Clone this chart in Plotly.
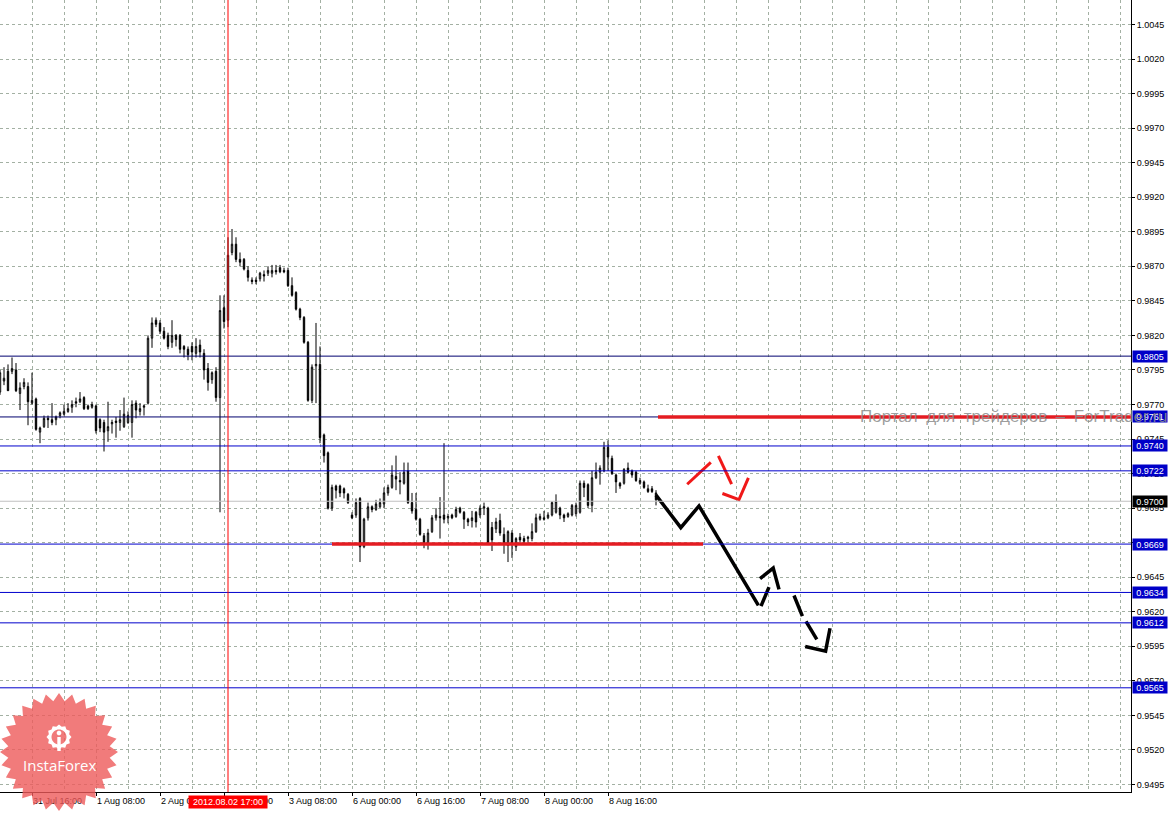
import numpy as np
import plotly.graph_objects as go

# ---------------- data (H1 bars, x = bar number) ----------------
bars = list(range(165))

open_prices = [
    0.9779, 0.9787, 0.9794, 0.9794, 0.9795, 0.9778, 0.9783, 0.9783, 0.9771, 0.9774,
    0.9750, 0.9754, 0.9760, 0.9759, 0.9759, 0.9762, 0.9763, 0.9765, 0.9768, 0.9772,
    0.9772, 0.9775, 0.9769, 0.9768, 0.9769, 0.9759, 0.9757, 0.9751, 0.9756, 0.9758,
    0.9757, 0.9754, 0.9757, 0.9757, 0.9771, 0.9765, 0.9768, 0.9771, 0.9818, 0.9831,
    0.9829, 0.9823, 0.9820, 0.9815, 0.9820, 0.9820, 0.9812, 0.9810, 0.9812, 0.9807,
    0.9813, 0.9807, 0.9796, 0.9788, 0.9794, 0.9775, 0.9840, 0.9831, 0.9880, 0.9886,
    0.9875, 0.9875, 0.9867, 0.9860, 0.9860, 0.9861, 0.9864, 0.9865, 0.9865, 0.9867,
    0.9869, 0.9867, 0.9867, 0.9856, 0.9851, 0.9839, 0.9833, 0.9815, 0.9773, 0.9798,
    0.9799, 0.9748, 0.9735, 0.9695, 0.9711, 0.9711, 0.9709, 0.9705, 0.9690, 0.9690,
    0.9702, 0.9667, 0.9688, 0.9696, 0.9694, 0.9696, 0.9698, 0.9706, 0.9710, 0.9718,
    0.9715, 0.9713, 0.9722, 0.9699, 0.9694, 0.9687, 0.9675, 0.9670, 0.9678, 0.9688,
    0.9689, 0.9690, 0.9688, 0.9690, 0.9689, 0.9695, 0.9692, 0.9687, 0.9686, 0.9692,
    0.9690, 0.9695, 0.9695, 0.9681, 0.9680, 0.9686, 0.9676, 0.9668, 0.9677, 0.9667,
    0.9674, 0.9673, 0.9673, 0.9673, 0.9678, 0.9687, 0.9688, 0.9688, 0.9690, 0.9692,
    0.9695, 0.9690, 0.9689, 0.9690, 0.9691, 0.9692, 0.9713, 0.9712, 0.9697, 0.9717,
    0.9721, 0.9722, 0.9739, 0.9731, 0.9719, 0.9713, 0.9713, 0.9724, 0.9722, 0.9721,
    0.9713, 0.9714, 0.9709, 0.9709, 0.9706,
]
high_prices = [
    0.9795, 0.9797, 0.9799, 0.9804, 0.9800, 0.9786, 0.9789, 0.9786, 0.9793, 0.9775,
    0.9754, 0.9762, 0.9762, 0.9771, 0.9762, 0.9765, 0.9770, 0.9771, 0.9773, 0.9775,
    0.9779, 0.9776, 0.9770, 0.9772, 0.9770, 0.9760, 0.9759, 0.9772, 0.9759, 0.9761,
    0.9766, 0.9775, 0.9765, 0.9773, 0.9773, 0.9771, 0.9770, 0.9820, 0.9833, 0.9833,
    0.9831, 0.9826, 0.9822, 0.9831, 0.9821, 0.9821, 0.9813, 0.9812, 0.9815, 0.9818,
    0.9817, 0.9810, 0.9800, 0.9794, 0.9797, 0.9849, 0.9849, 0.9891, 0.9897, 0.9891,
    0.9880, 0.9876, 0.9870, 0.9862, 0.9862, 0.9866, 0.9867, 0.9870, 0.9871, 0.9871,
    0.9871, 0.9869, 0.9869, 0.9862, 0.9852, 0.9840, 0.9834, 0.9816, 0.9799, 0.9829,
    0.9812, 0.9749, 0.9736, 0.9712, 0.9712, 0.9712, 0.9710, 0.9706, 0.9692, 0.9702,
    0.9703, 0.9688, 0.9699, 0.9697, 0.9701, 0.9702, 0.9710, 0.9712, 0.9726, 0.9733,
    0.9721, 0.9728, 0.9728, 0.9706, 0.9706, 0.9688, 0.9677, 0.9680, 0.9690, 0.9695,
    0.9703, 0.9742, 0.9691, 0.9691, 0.9696, 0.9696, 0.9693, 0.9688, 0.9693, 0.9693,
    0.9697, 0.9699, 0.9696, 0.9685, 0.9688, 0.9691, 0.9681, 0.9679, 0.9679, 0.9674,
    0.9677, 0.9675, 0.9675, 0.9684, 0.9691, 0.9691, 0.9693, 0.9692, 0.9700, 0.9705,
    0.9696, 0.9691, 0.9692, 0.9698, 0.9699, 0.9715, 0.9715, 0.9713, 0.9722, 0.9728,
    0.9726, 0.9743, 0.9744, 0.9733, 0.9720, 0.9714, 0.9724, 0.9728, 0.9723, 0.9722,
    0.9717, 0.9715, 0.9712, 0.9711, 0.9708,
]
low_prices = [
    0.9777, 0.9784, 0.9780, 0.9792, 0.9779, 0.9766, 0.9781, 0.9755, 0.9770, 0.9751,
    0.9742, 0.9753, 0.9753, 0.9755, 0.9755, 0.9760, 0.9762, 0.9764, 0.9764, 0.9768,
    0.9771, 0.9766, 0.9766, 0.9767, 0.9749, 0.9750, 0.9736, 0.9743, 0.9749, 0.9746,
    0.9751, 0.9753, 0.9756, 0.9746, 0.9760, 0.9762, 0.9762, 0.9770, 0.9811, 0.9826,
    0.9821, 0.9817, 0.9810, 0.9811, 0.9812, 0.9807, 0.9804, 0.9802, 0.9802, 0.9804,
    0.9804, 0.9788, 0.9780, 0.9785, 0.9772, 0.9692, 0.9825, 0.9826, 0.9878, 0.9873,
    0.9870, 0.9867, 0.9859, 0.9857, 0.9857, 0.9859, 0.9859, 0.9863, 0.9862, 0.9864,
    0.9865, 0.9865, 0.9855, 0.9848, 0.9838, 0.9831, 0.9814, 0.9772, 0.9771, 0.9771,
    0.9742, 0.9728, 0.9694, 0.9693, 0.9702, 0.9703, 0.9702, 0.9698, 0.9687, 0.9688,
    0.9656, 0.9666, 0.9686, 0.9692, 0.9693, 0.9695, 0.9695, 0.9704, 0.9709, 0.9708,
    0.9705, 0.9712, 0.9698, 0.9691, 0.9686, 0.9675, 0.9666, 0.9665, 0.9677, 0.9686,
    0.9673, 0.9684, 0.9684, 0.9687, 0.9688, 0.9691, 0.9680, 0.9682, 0.9681, 0.9681,
    0.9688, 0.9690, 0.9669, 0.9664, 0.9677, 0.9675, 0.9662, 0.9656, 0.9659, 0.9664,
    0.9670, 0.9669, 0.9670, 0.9671, 0.9677, 0.9686, 0.9686, 0.9687, 0.9689, 0.9691,
    0.9687, 0.9685, 0.9688, 0.9689, 0.9689, 0.9691, 0.9703, 0.9695, 0.9692, 0.9716,
    0.9712, 0.9721, 0.9722, 0.9719, 0.9706, 0.9709, 0.9712, 0.9720, 0.9717, 0.9714,
    0.9712, 0.9709, 0.9706, 0.9706, 0.9697,
]
close_prices = [
    0.9793, 0.9789, 0.9780, 0.9796, 0.9780, 0.9782, 0.9786, 0.9772, 0.9773, 0.9752,
    0.9753, 0.9760, 0.9759, 0.9757, 0.9761, 0.9764, 0.9765, 0.9767, 0.9770, 0.9771,
    0.9774, 0.9767, 0.9767, 0.9770, 0.9751, 0.9753, 0.9750, 0.9754, 0.9757, 0.9757,
    0.9759, 0.9763, 0.9762, 0.9770, 0.9766, 0.9767, 0.9769, 0.9818, 0.9829, 0.9828,
    0.9823, 0.9818, 0.9812, 0.9820, 0.9817, 0.9810, 0.9810, 0.9806, 0.9808, 0.9812,
    0.9808, 0.9795, 0.9786, 0.9793, 0.9775, 0.9838, 0.9830, 0.9878, 0.9886, 0.9875,
    0.9873, 0.9868, 0.9862, 0.9859, 0.9859, 0.9865, 0.9863, 0.9867, 0.9867, 0.9866,
    0.9866, 0.9866, 0.9856, 0.9849, 0.9839, 0.9833, 0.9815, 0.9773, 0.9797, 0.9799,
    0.9746, 0.9733, 0.9695, 0.9710, 0.9708, 0.9706, 0.9706, 0.9699, 0.9688, 0.9699,
    0.9667, 0.9687, 0.9696, 0.9694, 0.9698, 0.9699, 0.9706, 0.9710, 0.9719, 0.9716,
    0.9714, 0.9721, 0.9699, 0.9693, 0.9687, 0.9676, 0.9670, 0.9677, 0.9688, 0.9690,
    0.9688, 0.9687, 0.9689, 0.9688, 0.9694, 0.9692, 0.9687, 0.9685, 0.9688, 0.9685,
    0.9695, 0.9696, 0.9670, 0.9672, 0.9685, 0.9677, 0.9670, 0.9678, 0.9670, 0.9673,
    0.9672, 0.9671, 0.9674, 0.9678, 0.9688, 0.9689, 0.9687, 0.9690, 0.9699, 0.9700,
    0.9690, 0.9688, 0.9691, 0.9697, 0.9697, 0.9713, 0.9710, 0.9697, 0.9717, 0.9721,
    0.9724, 0.9739, 0.9732, 0.9720, 0.9714, 0.9711, 0.9723, 0.9721, 0.9719, 0.9715,
    0.9715, 0.9710, 0.9707, 0.9707, 0.9701,
]

x_tick_bars = [8, 24, 40, 56, 72, 88, 104, 120, 136, 152]
x_tick_text = ["31 Jul 16:00", "1 Aug 08:00", "2 Aug 00:00", "2 Aug 16:00",
               "3 Aug 08:00", "6 Aug 00:00", "6 Aug 16:00", "7 Aug 08:00",
               "8 Aug 00:00", "8 Aug 16:00"]
first_label_bar = -8
first_label_text = "31 Jul 00:00"

y_tick_values = [0.9495, 0.9520, 0.9545, 0.9570, 0.9595, 0.9620, 0.9645, 0.9670,
                 0.9695, 0.9720, 0.9745, 0.9770, 0.9795, 0.9820, 0.9845, 0.9870,
                 0.9895, 0.9920, 0.9945, 0.9970, 0.9995, 1.0020, 1.0045]
y_tick_text = ["0.9495", "0.9520", "0.9545", "0.9570", "0.9595", "0.9620", "0.9645",
               "0.9670", "0.9695", "0.9720", "0.9745", "0.9770", "0.9795", "0.9820",
               "0.9845", "0.9870", "0.9895", "0.9920", "0.9945", "0.9970", "0.9995",
               "1.0020", "1.0045"]

navy_levels = [0.9805, 0.9761]
blue_levels = [0.9740, 0.9722, 0.9669, 0.9634, 0.9612, 0.9565]
bid_level = 0.9700

red_level_prices = [0.9761, 0.9669]
red_level_from = [164.5, 83.0]
red_level_to = [290.0, 175.75]

cursor_bar = 57
cursor_label = "2012.08.02 17:00"

# forecast drawings (bar, price)
fc_solid_x = [164.0, 170.2, 174.75, 189.6]
fc_solid_y = [0.97044, 0.96809, 0.96966, 0.96246]
fc_dash_x = [[190.25, 192.25], [190.0, 193.3, 194.75], [198.5, 200.6],
             [201.5, 204.2], [201.3, 206.4, 207.5]]
fc_dash_y = [[0.96241, 0.96379], [0.96440, 0.96516, 0.96362], [0.96318, 0.96168],
             [0.96130, 0.96000], [0.95949, 0.95915, 0.96081]]
fc_red_x = [[171.8, 177.7], [179.6, 182.9], [180.6, 184.75, 187.1]]
fc_red_y = [[0.97123, 0.97281], [0.97328, 0.97123], [0.97056, 0.97012, 0.97169]]

watermark_words = ["Портал", "для", "трейдеров", "–", "ForTrader.ru"]
watermark_bar = 214.5
logo_text = "InstaForex"

# ---------------- styling ----------------
W, H = 1174, 813
ML, MR, MT, MB = 0, 43, 0, 21
PW, PH = W - ML - MR, H - MT - MB
GRID = "#a3b0a3"
FONT = "Liberation Sans, Arial, sans-serif"
X_RANGE = [0, PW / 4.0]
Y_RANGE = [0.94896, 1.00627]

fig = go.Figure()

fig.add_trace(go.Candlestick(
    x=bars, open=open_prices, high=high_prices, low=low_prices, close=close_prices,
    increasing=dict(line=dict(color="black", width=1), fillcolor="white"),
    decreasing=dict(line=dict(color="black", width=1), fillcolor="black"),
    whiskerwidth=0, showlegend=False, hoverinfo="skip",
))


def joined(xs_list, ys_list):
    xs, ys = [], []
    for xs_i, ys_i in zip(xs_list, ys_list):
        xs += list(xs_i) + [None]
        ys += list(ys_i) + [None]
    return xs, ys


fig.add_trace(go.Scatter(x=fc_solid_x, y=fc_solid_y, mode="lines",
                         line=dict(color="black", width=3.5), hoverinfo="skip",
                         showlegend=False))
dx, dy = joined(fc_dash_x, fc_dash_y)
fig.add_trace(go.Scatter(x=dx, y=dy, mode="lines", line=dict(color="black", width=3.5),
                         hoverinfo="skip", showlegend=False, connectgaps=False))
rx, ry = joined(fc_red_x, fc_red_y)
fig.add_trace(go.Scatter(x=rx, y=ry, mode="lines", line=dict(color="#f01818", width=3),
                         hoverinfo="skip", showlegend=False, connectgaps=False))

shapes = []
for lv in navy_levels:
    shapes.append(dict(type="line", xref="paper", yref="y", x0=0, x1=1, y0=lv, y1=lv,
                       line=dict(color="#00006e", width=1), layer="above"))
for lv in blue_levels:
    shapes.append(dict(type="line", xref="paper", yref="y", x0=0, x1=1, y0=lv, y1=lv,
                       line=dict(color="#0000cc", width=1), layer="above"))
shapes.append(dict(type="line", xref="paper", yref="y", x0=0, x1=1, y0=bid_level,
                   y1=bid_level, line=dict(color="#c0c0c0", width=1), layer="above"))
for p, a, b in zip(red_level_prices, red_level_from, red_level_to):
    shapes.append(dict(type="line", xref="x", yref="y", x0=a, x1=min(b, X_RANGE[1]),
                       y0=p, y1=p, line=dict(color="#e41c22", width=3.5), layer="above"))
shapes.append(dict(type="line", xref="x", yref="paper", x0=cursor_bar, x1=cursor_bar,
                   y0=0, y1=1, line=dict(color="#ff0000", width=1), layer="above"))


# InstaForex logo (decoration, in pixel space -> paper)
def px2paper(px, py):
    return (px - ML) / PW, (MT + PH - py) / PH


def poly_path(points, close=True):
    s = "M " + " L ".join(f"{x:.5f},{y:.5f}" for x, y in points)
    return s + (" Z" if close else "")


def star_pts(cx, cy, R, r, n, start=np.pi / 2):
    pts = []
    for k in range(2 * n):
        ang = start + k * np.pi / n
        rad = R if k % 2 == 0 else r
        pts.append(px2paper(cx + rad * np.cos(ang), cy - rad * np.sin(ang)))
    return pts


def circle_pts(cx, cy, r, n=36, reverse=False):
    angs = np.linspace(0, 2 * np.pi, n, endpoint=False)
    if reverse:
        angs = angs[::-1]
    return [px2paper(cx + r * np.cos(a), cy - r * np.sin(a)) for a in angs]


shapes.append(dict(type="path", xref="paper", yref="paper",
                   path=poly_path(star_pts(59, 752, 59, 51, 28)),
                   fillcolor="rgba(238,90,90,0.80)", line=dict(width=0), layer="above"))
gear = poly_path(star_pts(59, 737, 12.5, 10.5, 12)) + " " + poly_path(circle_pts(59, 737, 7.5, reverse=True))
shapes.append(dict(type="path", xref="paper", yref="paper", path=gear,
                   fillcolor="white", line=dict(width=0), layer="above"))
shapes.append(dict(type="path", xref="paper", yref="paper",
                   path=poly_path(circle_pts(59, 733, 2.3)),
                   fillcolor="white", line=dict(width=0), layer="above"))
shapes.append(dict(type="path", xref="paper", yref="paper",
                   path=poly_path([px2paper(57.3, 737), px2paper(60.7, 737),
                                   px2paper(60.7, 751), px2paper(57.3, 751)]),
                   fillcolor="white", line=dict(width=0), layer="above"))

annotations = []
for lv in navy_levels + blue_levels + [bid_level]:
    annotations.append(dict(
        xref="paper", yref="y", x=1, y=lv, xanchor="left", yanchor="middle", xshift=1,
        text=f"{lv:.4f}", showarrow=False, bgcolor="black" if lv == bid_level else "#0000c8",
        font=dict(family=FONT, size=9, color="white"), width=33, height=10, borderpad=0.5,
        align="center"))
annotations.append(dict(
    xref="x", yref="paper", x=cursor_bar, y=0, xanchor="center", yanchor="top", yshift=-3,
    text=cursor_label, showarrow=False, bgcolor="#ff0000",
    font=dict(family=FONT, size=9, color="white"), width=76, height=10, borderpad=1))
annotations.append(dict(
    xref="x", yref="paper", x=first_label_bar, y=0, xanchor="left", yanchor="top",
    xshift=1, yshift=-3, text=first_label_text, showarrow=False,
    font=dict(family=FONT, size=9, color="black")))
annotations.append(dict(
    xref="x", yref="y", x=watermark_bar, y=red_level_prices[0], xanchor="left",
    yanchor="middle", text="\u2002".join(watermark_words), showarrow=False,
    font=dict(family=FONT, size=17, color="rgba(140,140,140,0.85)")))
lx, ly = px2paper(60, 765)
annotations.append(dict(
    xref="paper", yref="paper", x=lx, y=ly, xanchor="center", yanchor="middle",
    text=logo_text, showarrow=False,
    font=dict(family="Open Sans, Liberation Sans, sans-serif", size=15, color="white")))

fig.update_layout(
    width=W, height=H, margin=dict(l=ML, r=MR, t=MT, b=MB, pad=0),
    paper_bgcolor="white", plot_bgcolor="white", showlegend=False, hovermode=False,
    boxgap=0.5, shapes=shapes, annotations=annotations,
    xaxis=dict(
        range=X_RANGE, rangeslider=dict(visible=False), tickmode="array",
        tickvals=x_tick_bars, ticktext=x_tick_text, ticks="outside", ticklen=3,
        tickcolor="black", ticklabelposition="outside right",
        tickfont=dict(family=FONT, size=9, color="black"),
        showline=True, linecolor="black", linewidth=1, zeroline=False,
        showgrid=True, gridcolor=GRID, gridwidth=1, griddash="3px,3px",
        minor=dict(dtick=8, tick0=0, showgrid=True, gridcolor=GRID, gridwidth=1,
                   griddash="3px,3px", ticks=""),
    ),
    yaxis=dict(
        side="right", range=Y_RANGE, tickmode="array", tickvals=y_tick_values,
        ticktext=y_tick_text, ticks="outside", ticklen=3, tickcolor="black",
        tickfont=dict(family=FONT, size=9, color="black"),
        showline=True, linecolor="black", linewidth=1, zeroline=False,
        showgrid=True, gridcolor=GRID, gridwidth=1, griddash="3px,3px",
    ),
)

fig.write_html(
    "out.html",
    config={"displayModeBar": False},
    post_script="document.body.style.margin='0';document.body.style.padding='0';"
                "document.documentElement.style.overflow='hidden';",
)
